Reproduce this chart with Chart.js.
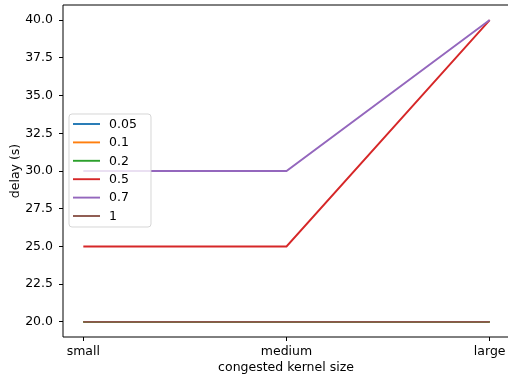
<!DOCTYPE html>
<html>
<head>
<meta charset="utf-8">
<script src="https://cdn.jsdelivr.net/npm/chart.js@4/dist/chart.umd.min.js"></script>
<style>
  html, body { margin: 0; padding: 0; background: #fff; overflow: hidden; }
  #wrap { position: absolute; left: 0; top: 0; width: 512px; height: 380px; }
</style>
</head>
<body>
<div id="wrap"><canvas id="c" width="512" height="380"></canvas></div>
<script>
// Kernel size categories on the x axis
const categories = ['small', 'medium', 'large'];
// Series names (shown in the legend)
const seriesLabels = ['0.05', '0.1', '0.2', '0.5', '0.7', '1'];
const seriesColors = ['#1f77b4', '#ff7f0e', '#2ca02c', '#d62728', '#9467bd', '#8c564b'];
// Delay values (s) per series, one per category
const delay005 = [20, 20, 20];
const delay01  = [20, 20, 20];
const delay02  = [20, 20, 20];
const delay05  = [25, 25, 40];
const delay07  = [30, 30, 40];
const delay1   = [20, 20, 20];
const seriesValues = [delay005, delay01, delay02, delay05, delay07, delay1];
// Y tick labels
const yTicks = [20.0, 22.5, 25.0, 27.5, 30.0, 32.5, 35.0, 37.5, 40.0];

const FONT = '"DejaVu Sans", sans-serif';
const FS = 12.5;
const LW = 1.9;

const datasets = seriesLabels.map((lab, i) => ({
  label: lab,
  data: seriesValues[i].map((v, k) => ({ x: k, y: v })),
  borderColor: seriesColors[i],
  backgroundColor: seriesColors[i],
  borderWidth: LW,
  pointRadius: 0,
  tension: 0,
  fill: false,
  order: seriesLabels.length - i   // later series drawn on top
}));

// Frame, axis titles and legend box
const decorations = {
  id: 'decorations',
  afterDatasetsDraw(chart) {
    const ctx = chart.ctx;
    const a = chart.chartArea;
    const W = chart.width;
    ctx.save();
    // axes frame (the right side runs past the visible page)
    ctx.strokeStyle = '#000';
    ctx.lineWidth = 1;
    ctx.beginPath();
    ctx.moveTo(W, a.top);
    ctx.lineTo(a.left, a.top);
    ctx.lineTo(a.left, a.bottom);
    ctx.lineTo(W, a.bottom);
    ctx.stroke();

    // axis titles
    ctx.fillStyle = '#000';
    ctx.font = FS + 'px ' + FONT;
    ctx.textAlign = 'center';
    ctx.textBaseline = 'middle';
    ctx.fillText('congested kernel size', (a.left + a.right) / 2 - 0.5, 368);
    ctx.save();
    ctx.translate(15.5, (a.top + a.bottom) / 2);
    ctx.rotate(-Math.PI / 2);
    ctx.fillText('delay (s)', 0, 0);
    ctx.restore();

    // legend
    const lx = 69, ly = 114, lw = 82, lh = 113, r = 3;
    ctx.beginPath();
    ctx.moveTo(lx + r, ly);
    ctx.lineTo(lx + lw - r, ly);
    ctx.quadraticCurveTo(lx + lw, ly, lx + lw, ly + r);
    ctx.lineTo(lx + lw, ly + lh - r);
    ctx.quadraticCurveTo(lx + lw, ly + lh, lx + lw - r, ly + lh);
    ctx.lineTo(lx + r, ly + lh);
    ctx.quadraticCurveTo(lx, ly + lh, lx, ly + lh - r);
    ctx.lineTo(lx, ly + r);
    ctx.quadraticCurveTo(lx, ly, lx + r, ly);
    ctx.closePath();
    ctx.fillStyle = 'rgba(255,255,255,0.8)';
    ctx.fill();
    ctx.strokeStyle = 'rgba(204,204,204,0.8)';
    ctx.lineWidth = 1;
    ctx.stroke();

    ctx.textAlign = 'left';
    chart.data.datasets.forEach((ds, i) => {
      const y = 124 + i * 18.4;
      ctx.strokeStyle = ds.borderColor;
      ctx.lineWidth = LW;
      ctx.beginPath();
      ctx.moveTo(73, y);
      ctx.lineTo(100, y);
      ctx.stroke();
      ctx.fillStyle = '#000';
      ctx.fillText(ds.label, 109, y + 0.5);
    });
    ctx.restore();
  }
};

new Chart(document.getElementById('c'), {
  type: 'line',
  data: { datasets },
  options: {
    responsive: false,
    animation: false,
    events: [],
    layout: { padding: { left: 0, top: 5, right: 2, bottom: 0 } },
    plugins: { legend: { display: false }, tooltip: { enabled: false } },
    scales: {
      x: {
        type: 'linear',
        min: -0.1,
        max: 2.1,
        afterBuildTicks(scale) { scale.ticks = categories.map((_, k) => ({ value: k })); },
        afterFit(scale) { scale.height = 43; scale.paddingLeft = 0; scale.paddingRight = 0; },
        grid: { display: true, drawOnChartArea: false, drawTicks: true, tickLength: 4, tickColor: '#000', tickWidth: 1 },
        border: { display: false },
        ticks: {
          autoSkip: false,
          maxRotation: 0,
          padding: 3,
          color: '#000',
          font: { family: FONT, size: FS },
          callback: (v) => categories[v]
        }
      },
      y: {
        type: 'linear',
        min: 19,
        max: 41,
        afterBuildTicks(scale) { scale.ticks = yTicks.map(v => ({ value: v })); },
        afterFit(scale) { scale.width = 63; scale.paddingTop = 0; scale.paddingBottom = 0; },
        grid: { display: true, drawOnChartArea: false, drawTicks: true, tickLength: 4, tickColor: '#000', tickWidth: 1 },
        border: { display: false },
        ticks: {
          padding: 6,
          color: '#000',
          font: { family: FONT, size: FS },
          callback: (v) => Number(v).toFixed(1)
        }
      }
    }
  },
  plugins: [decorations]
});
</script>
</body>
</html>
